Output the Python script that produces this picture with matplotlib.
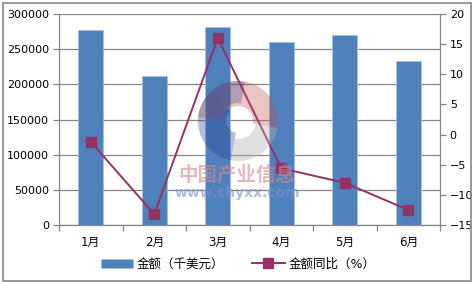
import matplotlib
matplotlib.use("Agg")
import matplotlib.pyplot as plt
from matplotlib.patches import Rectangle, Wedge
import numpy as np

plt.rcParams['font.family'] = ['DejaVu Sans', 'Noto Sans CJK SC']

months = ["1月", "2月", "3月", "4月", "5月", "6月"]
amount = [277000, 212000, 281500, 260500, 270000, 233000]
yoy = [-1.2, -13.2, 16.0, -5.6, -8.0, -12.5]
left_ticks = [0, 50000, 100000, 150000, 200000, 250000, 300000]
right_ticks = [-15, -10, -5, 0, 5, 10, 15, 20]

W, H, DPI = 474, 282, 100
fig = plt.figure(figsize=(W / DPI, H / DPI), dpi=DPI)
ax = fig.add_axes([59 / W, 1 - 225 / H, (440 - 59) / W, (225 - 14) / H])

bar_color = "#4F81BD"
line_color = "#953163"
grid_color = "#868686"

x = np.arange(len(months))
ax.bar(x, amount, width=0.4, color=bar_color, edgecolor="#A7C0DE", linewidth=0.6, zorder=2,
       label="金额（千美元）")
ax.set_xlim(-0.5, len(months) - 0.5)
ax.set_ylim(0, 300000)
ax.set_yticks(left_ticks)
ax.set_yticklabels([str(v) for v in left_ticks])
ax.yaxis.grid(True, color=grid_color, linewidth=0.9, zorder=0)
ax.set_axisbelow(True)
ax.set_xticks(x)
ax.set_xticklabels(months)
ax.set_xticks(np.arange(-0.5, len(months)), minor=True)
ax.tick_params(axis='x', which='major', length=0, pad=8, labelsize=8.5)
ax.tick_params(axis='x', which='minor', length=4, color=grid_color, width=0.9)
ax.tick_params(axis='y', length=4, color=grid_color, width=0.9, labelsize=8, pad=3)
for s in ["top", "right"]:
    ax.spines[s].set_visible(False)
for s in ["left", "bottom"]:
    ax.spines[s].set_color(grid_color)
    ax.spines[s].set_linewidth(0.9)

ax2 = ax.twinx()
ax2.plot(x, yoy, color=line_color, linewidth=1.4, marker="s", markersize=6.5,
         markerfacecolor=line_color, markeredgecolor=line_color, zorder=3,
         label="金额同比（%）")
ax2.set_ylim(-15, 20)
ax2.set_yticks(right_ticks)
ax2.set_yticklabels([str(v).replace("-", "−") for v in right_ticks])
ax2.tick_params(axis='y', length=4, color=grid_color, width=0.9, labelsize=8, pad=3)
for s in ["top", "left", "bottom"]:
    ax2.spines[s].set_visible(False)
ax2.spines["right"].set_color(grid_color)
ax2.spines["right"].set_linewidth(0.9)

# watermark overlay in pixel coordinates
ov = fig.add_axes([0, 0, 1, 1], zorder=10)
ov.set_xlim(0, W)
ov.set_ylim(H, 0)
ov.axis("off")
ov.patch.set_alpha(0)
cx, cy, r = 238, 121, 40
ov.add_patch(Wedge((cx, cy), r, 185, 360 + 10, width=25, facecolor="#C0504D", alpha=0.33,
                   edgecolor="none"))
ov.add_patch(Wedge((cx, cy), r, 100, 230, width=28, facecolor="#1F3A8A", alpha=0.33,
                   edgecolor="none"))
ov.add_patch(Wedge((cx, cy), r, 10, 100, width=22, facecolor="#B0B0B0", alpha=0.4,
                   edgecolor="none"))
ov.add_patch(Wedge((cx, cy), r, 230, 280, width=22, facecolor="#1F3A8A", alpha=0.28,
                   edgecolor="none"))
ov.text(237, 175, "中国产业信息", fontsize=14, color="#D08A92", alpha=0.6,
        fontweight="bold", ha="center", va="center", family=["Noto Sans CJK SC"])
ov.text(237, 193, "www.chyxx.com", fontsize=10, color="#7F8FC8", alpha=0.6,
        fontweight="bold", ha="center", va="center")

# legend
h1, l1 = ax.get_legend_handles_labels()
h2, l2 = ax2.get_legend_handles_labels()
fig.legend(h1 + h2, l1 + l2, loc="center", bbox_to_anchor=(238 / W, 1 - 264 / H), ncol=2,
           frameon=False, fontsize=9, handlelength=2.6, columnspacing=2.2, handletextpad=0.3)

# outer border
fig.patches.append(Rectangle((2.5 / W, 1.5 / H), (471 - 2.5) / W, (280 - 2) / H,
                             transform=fig.transFigure, fill=False, edgecolor="#868686",
                             linewidth=1.2))

fig.savefig("out.png", dpi=DPI)
